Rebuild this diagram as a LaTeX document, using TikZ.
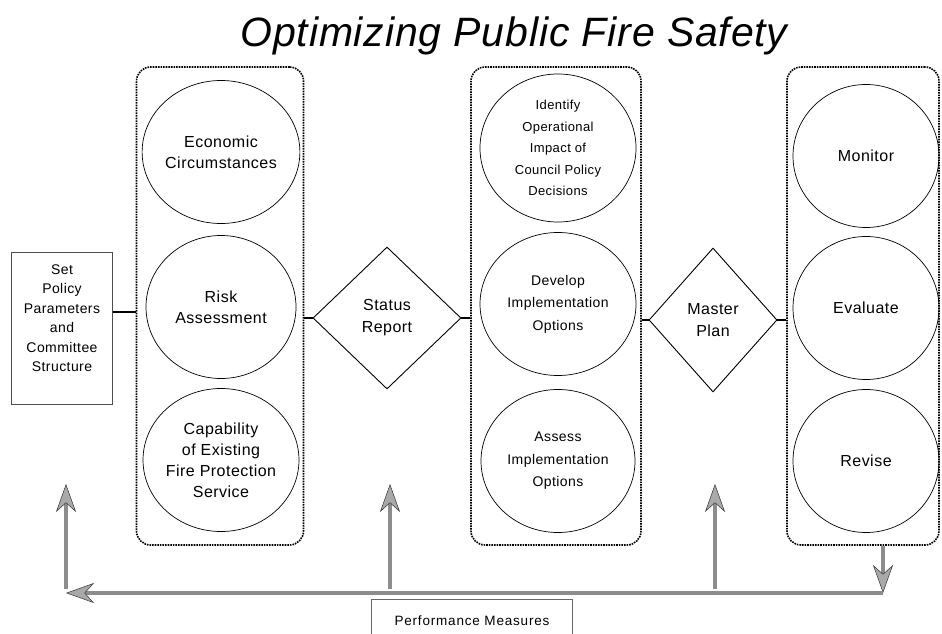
\documentclass[tikz,border=0pt]{standalone}
\usepackage{fontspec}
\setmainfont[LetterSpace=3]{Liberation Sans}
\newfontfamily\titlefont[LetterSpace=2]{Liberation Sans}
\newfontfamily\spacedfont[LetterSpace=6]{Liberation Sans}
\usetikzlibrary{shapes.geometric,arrows.meta}

\definecolor{FeedGray}{gray}{0.55}

\tikzset{
  groupbox/.style={draw,densely dotted,line width=1.6pt,rounded corners=14pt,
    minimum width=167,minimum height=478},
  stage/.style={draw,ellipse,line width=0.7pt,align=center,inner sep=0pt,
    minimum width=150,minimum height=143,font=\fontsize{16}{21}\selectfont},
  decision/.style={draw,diamond,line width=0.9pt,align=center,inner sep=0pt,
    minimum width=148,minimum height=142,font=\fontsize{16}{22}\selectfont},
  link/.style={line width=1.4pt},
  feedback/.style={draw=FeedGray,line width=4pt,
    -{Stealth[length=28pt,width=20pt,inset=9pt,fill=FeedGray!75,color=black!80,line width=0.5pt]}},
}

\begin{document}
\begin{tikzpicture}[x=1pt,y=-1pt]
  \useasboundingbox (0,0) rectangle (942,634);

  \node[font=\titlefont\itshape\fontsize{41}{46}\selectfont] (title) at (514,36)
    {Optimizing Public Fire Safety};

  % policy parameters, far left
  \node[draw=black!70,line width=0.6pt,minimum width=101,minimum height=152] (policy) at (62,328) {};
  \node[align=center,font=\fontsize{14}{19.5}\selectfont] (policytext) at (62,318)
    {Set\\Policy\\Parameters\\and\\Committee\\Structure};

  % first group
  \node[groupbox] (g1) at (220,306) {};
  \node[stage] (econ) at (221,152) {Economic\\Circumstances};
  \node[stage] (risk) at (221,307) {Risk\\Assessment};
  \node[stage] (capab) at (221,460) {Capability\\of Existing\\Fire Protection\\Service};

  \node[decision] (status) at (387,318) {Status\\Report};

  % second group
  \node[groupbox,minimum width=170] (g2) at (556,306) {};
  \node[stage,minimum width=156,minimum height=148,font=\fontsize{13}{21.5}\selectfont] (impact) at (558,148)
    {Identify\\Operational\\Impact of\\Council Policy\\Decisions};
  \node[stage,minimum width=156,font=\fontsize{14}{22.5}\selectfont] (develop) at (558,304)
    {Develop\\Implementation\\Options};
  \node[stage,minimum width=154,font=\fontsize{14}{22.5}\selectfont] (assess) at (558,461)
    {Assess\\Implementation\\Options};

  \node[decision,minimum width=128,minimum height=144] (master) at (713,320) {Master\\Plan};

  % third group
  \node[groupbox,minimum width=152] (g3) at (863,306) {};
  \node[stage,minimum width=146] (monitor) at (866,156) {Monitor};
  \node[stage,minimum width=146] (evaluate) at (866,308) {Evaluate};
  \node[stage,minimum width=146] (revise) at (866,461) {Revise};

  % links between the stages
  \draw[link] (policy.east |- 0,312) -- (g1.west |- 0,312);
  \draw[link] (g1.east |- status) -- (status.west);
  \draw[link] (status.east) -- (g2.west |- status);
  \draw[link] (g2.east |- master) -- (master.west);
  \draw[link] (master.east) -- (g3.west |- master);

  % performance feedback loop
  \coordinate (fbright) at (883,593);
  \coordinate (fbleft) at (66,593);
  \draw[feedback] (g3.south -| fbright) -- (fbright);
  \draw[feedback] (fbright) -- (fbleft);
  \foreach \xx in {66,390,715}
    \draw[feedback] (\xx,589) -- (\xx,484);

  \node[draw=black!60,line width=0.5pt,minimum width=201,minimum height=44,
    font=\spacedfont\fontsize{13.5}{16}\selectfont] (perf) at (472,621)
    {Performance Measures};
\end{tikzpicture}
\end{document}
